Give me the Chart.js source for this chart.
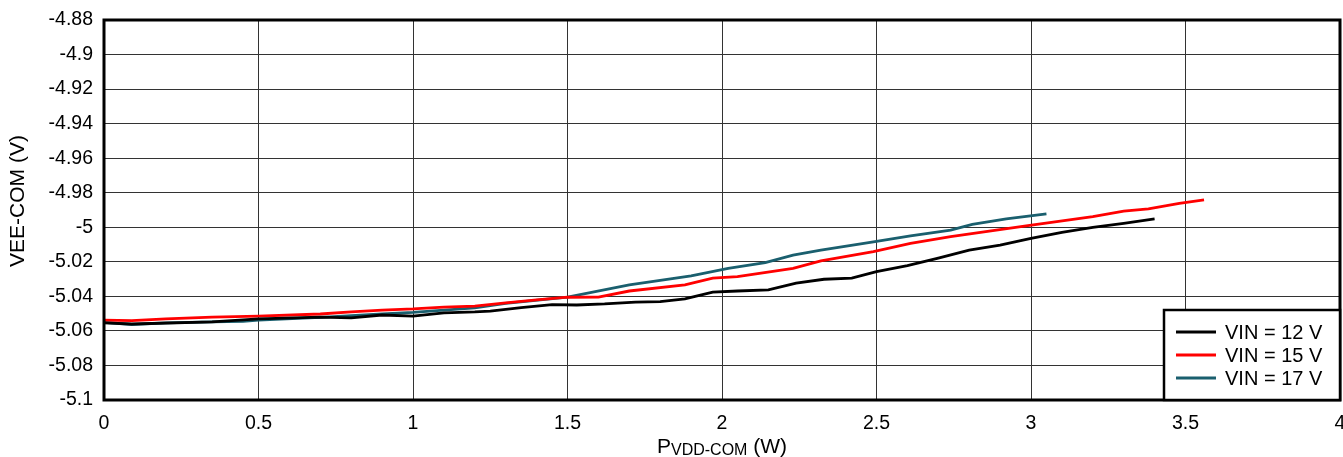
<!DOCTYPE html>
<html>
<head>
<meta charset="utf-8">
<script src="https://cdn.jsdelivr.net/npm/chart.js@4.4.1/dist/chart.umd.min.js"></script>
<style>
  html, body { margin: 0; padding: 0; background: #fff; }
</style>
</head>
<body>
<canvas id="myChart" width="1343" height="457"></canvas>
<script>
// 読み取った値 (W, V)
const x12 = [0, 0.09, 0.35, 0.5, 0.7, 0.8, 0.9, 1.0, 1.1, 1.2, 1.25, 1.35, 1.45, 1.53, 1.62, 1.72, 1.8, 1.88, 1.97, 2.05, 2.15, 2.24, 2.33, 2.42, 2.5, 2.6, 2.7, 2.8, 2.9, 3.0, 3.1, 3.2, 3.3, 3.4];
const y12 = [-5.0554, -5.056, -5.0548, -5.053, -5.052, -5.0525, -5.0508, -5.0514, -5.0496, -5.049, -5.0485, -5.0465, -5.0448, -5.045, -5.0444, -5.0433, -5.0431, -5.0415, -5.0375, -5.0369, -5.0363, -5.0323, -5.0301, -5.0295, -5.0257, -5.0222, -5.0178, -5.0132, -5.0103, -5.0064, -5.0029, -5.0, -4.9977, -4.9952];

const x15 = [0, 0.09, 0.2, 0.35, 0.5, 0.7, 0.8, 0.9, 1.0, 1.1, 1.2, 1.3, 1.4, 1.5, 1.6, 1.7, 1.88, 1.97, 2.05, 2.23, 2.32, 2.49, 2.61, 2.74, 2.99, 3.2, 3.3, 3.38, 3.48, 3.56];
const y15 = [-5.0537, -5.054, -5.053, -5.052, -5.0514, -5.0502, -5.049, -5.048, -5.0473, -5.0462, -5.0456, -5.0438, -5.042, -5.0405, -5.0404, -5.0369, -5.0334, -5.0294, -5.0286, -5.0238, -5.0194, -5.0141, -5.0093, -5.0054, -4.9991, -4.9939, -4.9906, -4.9894, -4.9861, -4.9842];

const x17 = [0, 0.09, 0.2, 0.35, 0.45, 0.5, 0.7, 0.9, 1.0, 1.2, 1.3, 1.5, 1.7, 1.9, 2.02, 2.14, 2.23, 2.32, 2.49, 2.61, 2.74, 2.81, 2.92, 3.05];
const y17 = [-5.0551, -5.0563, -5.0554, -5.0548, -5.0545, -5.0537, -5.0522, -5.0502, -5.0493, -5.0467, -5.0441, -5.0405, -5.0334, -5.0282, -5.0238, -5.0205, -5.0161, -5.0132, -5.0084, -5.005, -5.0016, -4.9983, -4.9952, -4.9923];

const seriesLabels = ['VIN = 12 V', 'VIN = 15 V', 'VIN = 17 V'];
const xTicks = [0, 0.5, 1, 1.5, 2, 2.5, 3, 3.5, 4];
const yTicks = [-5.1, -5.08, -5.06, -5.04, -5.02, -5, -4.98, -4.96, -4.94, -4.92, -4.9, -4.88];

const FONT = '"Liberation Sans", Arial, sans-serif';

function pts(xs, ys) {
    return xs.map((v, i) => ({ x: v, y: ys[i] }));
}

// 枠線・軸タイトル・凡例を描く
const extras = {
    id: 'extras',
    afterDraw(chart) {
        const c = chart.ctx;
        const a = chart.chartArea;
        c.save();
        c.strokeStyle = '#000';
        c.lineWidth = 3;
        c.strokeRect(a.left, a.top, a.right - a.left, a.bottom - a.top);

        // y軸タイトル
        c.fillStyle = '#000';
        c.font = '21px ' + FONT;
        c.textAlign = 'center';
        c.textBaseline = 'middle';
        c.translate(18, 201);
        c.rotate(-Math.PI / 2);
        c.fillText('VEE-COM (V)', 0, 0);
        c.setTransform(1, 0, 0, 1, 0, 0);

        // x軸タイトル (下付き文字)
        c.textAlign = 'left';
        c.textBaseline = 'alphabetic';
        const big = '21px ' + FONT, small = '16px ' + FONT;
        c.font = big; const wP = c.measureText('P').width;
        c.font = small; const wS = c.measureText('VDD-COM').width;
        c.font = big; const wW = c.measureText(' (W)').width;
        let x = (a.left + a.right) / 2 - (wP + wS + wW) / 2;
        const base = 453;
        c.font = big; c.fillText('P', x, base); x += wP;
        c.font = small; c.fillText('VDD-COM', x, base + 2); x += wS;
        c.font = big; c.fillText(' (W)', x, base);

        // 凡例
        const lx = 1164, ly = 310, lw = a.right - lx, lh = a.bottom - ly;
        c.fillStyle = '#fff';
        c.fillRect(lx, ly, lw, lh);
        c.strokeStyle = '#000';
        c.lineWidth = 2.5;
        c.strokeRect(lx, ly, lw, lh);
        c.font = '20px ' + FONT;
        c.textBaseline = 'middle';
        chart.data.datasets.forEach((ds, i) => {
            const yy = ly + 22 + i * 23;
            c.strokeStyle = ds.borderColor;
            c.lineWidth = 3;
            c.beginPath();
            c.moveTo(lx + 12, yy);
            c.lineTo(lx + 52, yy);
            c.stroke();
            c.fillStyle = '#000';
            c.fillText(ds.label, lx + 61, yy + 1);
        });
        c.restore();
    }
};

const ctx = document.getElementById('myChart');

new Chart(ctx, {
    type: 'scatter',
    data: {
        datasets: [
            { label: seriesLabels[0], data: pts(x12, y12), borderColor: '#000000' },
            { label: seriesLabels[1], data: pts(x15, y15), borderColor: '#ff0000' },
            { label: seriesLabels[2], data: pts(x17, y17), borderColor: '#1a5f6e' }
        ].map(d => Object.assign(d, { showLine: true, pointRadius: 0, borderWidth: 2.8, tension: 0, fill: false }))
    },
    options: {
        responsive: false,
        animation: false,
        devicePixelRatio: 1,
        layout: { padding: { top: 20, right: 3, left: 0, bottom: 0 } },
        plugins: {
            legend: { display: false },
            tooltip: { enabled: false }
        },
        scales: {
            x: {
                type: 'linear',
                min: 0,
                max: 4,
                afterBuildTicks: s => { s.ticks = xTicks.map(v => ({ value: v })); },
                afterFit: s => { s.height = 57; s.paddingLeft = 0; s.paddingRight = 0; },
                ticks: {
                    color: '#000',
                    font: { family: FONT, size: 19.5 },
                    padding: 12,
                    maxRotation: 0,
                    callback: v => String(v)
                },
                grid: { color: '#333', lineWidth: 1, drawTicks: false },
                border: { display: false }
            },
            y: {
                type: 'linear',
                min: -5.1,
                max: -4.88,
                afterBuildTicks: s => { s.ticks = yTicks.map(v => ({ value: v })); },
                afterFit: s => { s.width = 104; s.paddingTop = 0; s.paddingBottom = 0; },
                ticks: {
                    color: '#000',
                    font: { family: FONT, size: 19.5 },
                    padding: 11,
                    callback: v => String(+v.toFixed(2))
                },
                grid: { color: '#333', lineWidth: 1, drawTicks: false },
                border: { display: false }
            }
        }
    },
    plugins: [extras]
});
</script>
</body>
</html>
